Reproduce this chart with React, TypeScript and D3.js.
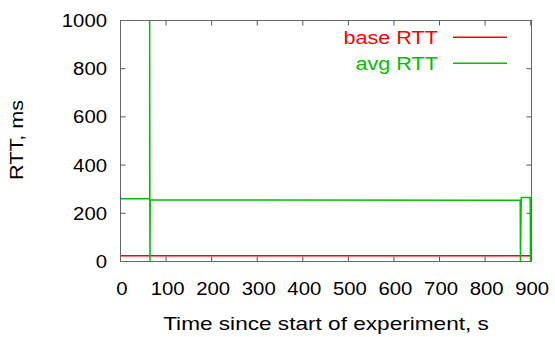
import React from "react";
import * as d3 from "d3";

const xTicks = [0, 100, 200, 300, 400, 500, 600, 700, 800, 900];
const yTicks = [0, 200, 400, 600, 800, 1000];
const baseT = [0, 900];
const baseV = [24, 24];
const avgT = [0, 0.5, 64, 64, 64.6, 65.2, 877, 877.5, 879.3, 899, 899.6];
const avgV = [270, 260, 260, 1000, 0, 255, 254, 0, 266, 266, 0];
const seriesNames = ["base RTT", "avg RTT"];
const seriesColors = ["#ff0000", "#00c000"];

const W = 555, H = 337;
const L = 120.5, R = 531.5, T = 20.5, B = 261.5;
const font = "'Liberation Sans', Arial, Helvetica, sans-serif";

export default function App() {
  const x = d3.scaleLinear().domain([0, 900]).range([L, R - 0.8]);
  const y = d3.scaleLinear().domain([0, 1000]).range([B, T]);
  const lineGen = d3.line<[number, number]>().x(d => x(d[0])).y(d => y(d[1]));
  const basePts = baseT.map((t, i) => [t, baseV[i]] as [number, number]);
  const avgPts = avgT.map((t, i) => [t, avgV[i]] as [number, number]);
  const txt = (s: string, tx: number, ty: number, anchor: string, fs: number, sx: number, fill = "#000", rot = 0) => (
    <text
      transform={`translate(${tx},${ty}) rotate(${rot}) scale(${sx},1)`}
      textAnchor={anchor}
      fontFamily={font}
      fontSize={fs}
      fill={fill}
    >
      {s}
    </text>
  );
  return (
    <svg width={W} height={H} style={{ position: "absolute", left: 0, top: 0, background: "#fff" }}>
      <rect x={0} y={0} width={W} height={H} fill="#fff" />
      {xTicks.map(t => (
        <g key={"xt" + t}>
          <line x1={x(t)} x2={x(t)} y1={B} y2={B - 5} stroke="#555" strokeWidth={1} />
          <line x1={x(t)} x2={x(t)} y1={T} y2={T + 5} stroke="#555" strokeWidth={1} />
          {txt(String(t), x(t) + 1.5, 295, "middle", 18, 1.13)}
        </g>
      ))}
      {yTicks.map(t => (
        <g key={"yt" + t}>
          <line x1={L} x2={L + 5} y1={y(t)} y2={y(t)} stroke="#555" strokeWidth={1} />
          <line x1={R} x2={R - 5} y1={y(t)} y2={y(t)} stroke="#555" strokeWidth={1} />
          {txt(String(t), 107, y(t) + 6.5, "end", 18, 1.13)}
        </g>
      ))}
      <path d={lineGen(basePts) || ""} fill="none" stroke={seriesColors[0]} strokeWidth={1.5} />
      <path d={lineGen(avgPts) || ""} fill="none" stroke={seriesColors[1]} strokeWidth={1.5} />
      <rect x={L} y={T} width={R - L} height={B - T} fill="none" stroke="#666" strokeWidth={1} />
      {seriesNames.map((n, i) => (
        <g key={n}>
          {txt(n, 438, 44 + i * 26, "end", 18.5, 1.17, seriesColors[i])}
          <line x1={453} x2={507} y1={37.3 + i * 26} y2={37.3 + i * 26} stroke={seriesColors[i]} strokeWidth={1.5} />
        </g>
      ))}
      {txt("Time since start of experiment, s", 326, 330, "middle", 19, 1.19)}
      {txt("RTT, ms", 23, 140, "middle", 18.5, 1.17, "#000", -90)}
    </svg>
  );
}
